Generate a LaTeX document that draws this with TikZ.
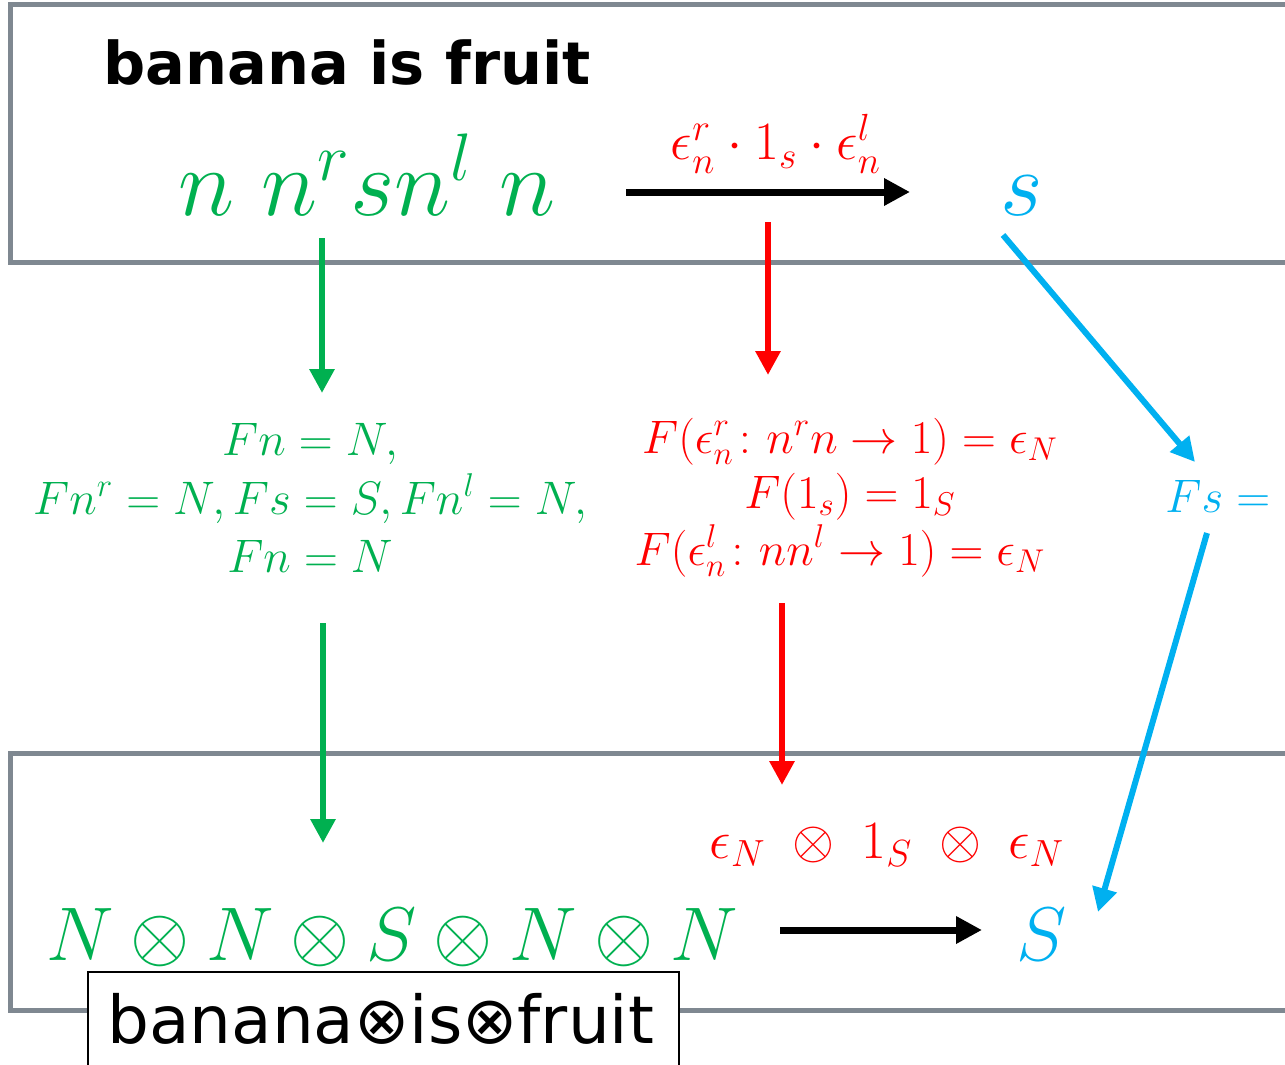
\RequirePackage{fix-cm}
\documentclass[tikz,border=0pt]{standalone}
\usepackage{amsmath,amssymb}
\usepackage{fontspec}
\setmainfont{DejaVu Sans}
\usetikzlibrary{arrows.meta}

\definecolor{frame}{HTML}{7F8891}
\definecolor{ngreen}{HTML}{00B050}
\definecolor{nred}{HTML}{FF0000}
\definecolor{nblue}{HTML}{00B0F0}

\tikzset{
  frameline/.style={draw=frame, line width=2.5pt},
  mapto/.style={-{Triangle[length=13pt,width=13pt]}, line width=3.5pt},
  funct/.style={-{Triangle[length=12pt,width=12pt]}, line width=3pt},
  eqline/.style={anchor=base, inner sep=0pt, font=\fontsize{23.5}{28}\selectfont},
}

\begin{document}
\begin{tikzpicture}[x=0.5pt,y=-0.5pt]
\useasboundingbox (0,0) rectangle (1285,1065);
\clip (0,0) rectangle (1285,1065);

% Frames
\draw[frameline] (1300,5) -- (10,5) -- (10,262) -- (1300,262);
\draw[frameline] (1300,753) -- (10,753) -- (10,1010) -- (1300,1010);

% Grammar side
\node[anchor=base west, inner sep=0pt, font=\fontsize{29.5}{34}\selectfont\bfseries] (title) at (103,85) {banana is fruit};
\node[anchor=base, inner sep=0pt, text=ngreen, font=\fontsize{48}{52}\selectfont] (types) at (367,215) {$n\;n^r s n^l\;n$};
\node[anchor=base, inner sep=0pt, text=nred, font=\fontsize{27}{30}\selectfont] (red) at (776,160) {$\epsilon_n^r\cdot 1_s\cdot \epsilon_n^l$};
\node[anchor=base, inner sep=0pt, text=nblue, font=\fontsize{46}{50}\selectfont] (sent) at (1022,215) {$s$};

% Functor on objects
\node[eqline, text=ngreen] (obja) at (310,455) {$Fn=N,$};
\node[eqline, text=ngreen] (objb) at (310,514) {$Fn^r=N, Fs=S, Fn^l=N,$};
\node[eqline, text=ngreen] (objc) at (310,572) {$Fn=N$};
% Functor on morphisms
\node[eqline, text=nred] (mora) at (850,453) {$F(\epsilon_n^r\colon n^r n\to 1)=\epsilon_N$};
\node[eqline, text=nred] (morb) at (850,508) {$F(1_s)=1_S$};
\node[eqline, text=nred] (morc) at (840,565) {$F(\epsilon_n^l\colon nn^l\to 1)=\epsilon_N$};
\node[eqline, anchor=base west, text=nblue] (smap) at (1165,512) {$Fs=S$};

% Meaning side
\node[anchor=base, inner sep=0pt, text=nred, font=\fontsize{27}{30}\selectfont] (redm) at (887,858) {$\epsilon_N\;\otimes\; 1_S\;\otimes\;\epsilon_N$};
\node[anchor=base, inner sep=0pt, text=ngreen, font=\fontsize{38}{40}\selectfont] (spaces) at (392,960) {$N\otimes N\otimes S\otimes N\otimes N$};
\node[anchor=base, inner sep=0pt, text=nblue, font=\fontsize{38}{40}\selectfont] (sspace) at (1042,960) {$S$};

% Label box
\draw[line width=1pt, fill=white] (88,972) rectangle (679,1080);
\node[anchor=base west, inner sep=0pt, font=\fontsize{33}{36}\selectfont] (caption) at (107,1043) {banana⊗is⊗fruit};

% Arrow ends
\coordinate (ta) at (626,192);
\coordinate (tb) at (910,192);
\coordinate (ga) at (322,238);
\coordinate (gb) at (322,393);
\coordinate (ra) at (768,222);
\coordinate (rb) at (768,375);
\coordinate (ba) at (1003,235);
\coordinate (bb) at (1195,462);
\coordinate (gc) at (323,623);
\coordinate (gd) at (323,843);
\coordinate (rc) at (782,603);
\coordinate (rd) at (782,785);
\coordinate (bc) at (1207,533);
\coordinate (bd) at (1098,912);
\coordinate (ma) at (780,930);
\coordinate (mb) at (982,930);

% Arrows
\draw[mapto] (ta) -- (tb);
\draw[mapto] (ma) -- (mb);
\draw[funct, ngreen] (ga) -- (gb);
\draw[funct, ngreen] (gc) -- (gd);
\draw[funct, nred] (ra) -- (rb);
\draw[funct, nred] (rc) -- (rd);
\draw[funct, nblue] (ba) -- (bb);
\draw[funct, nblue] (bc) -- (bd);
\end{tikzpicture}
\end{document}
